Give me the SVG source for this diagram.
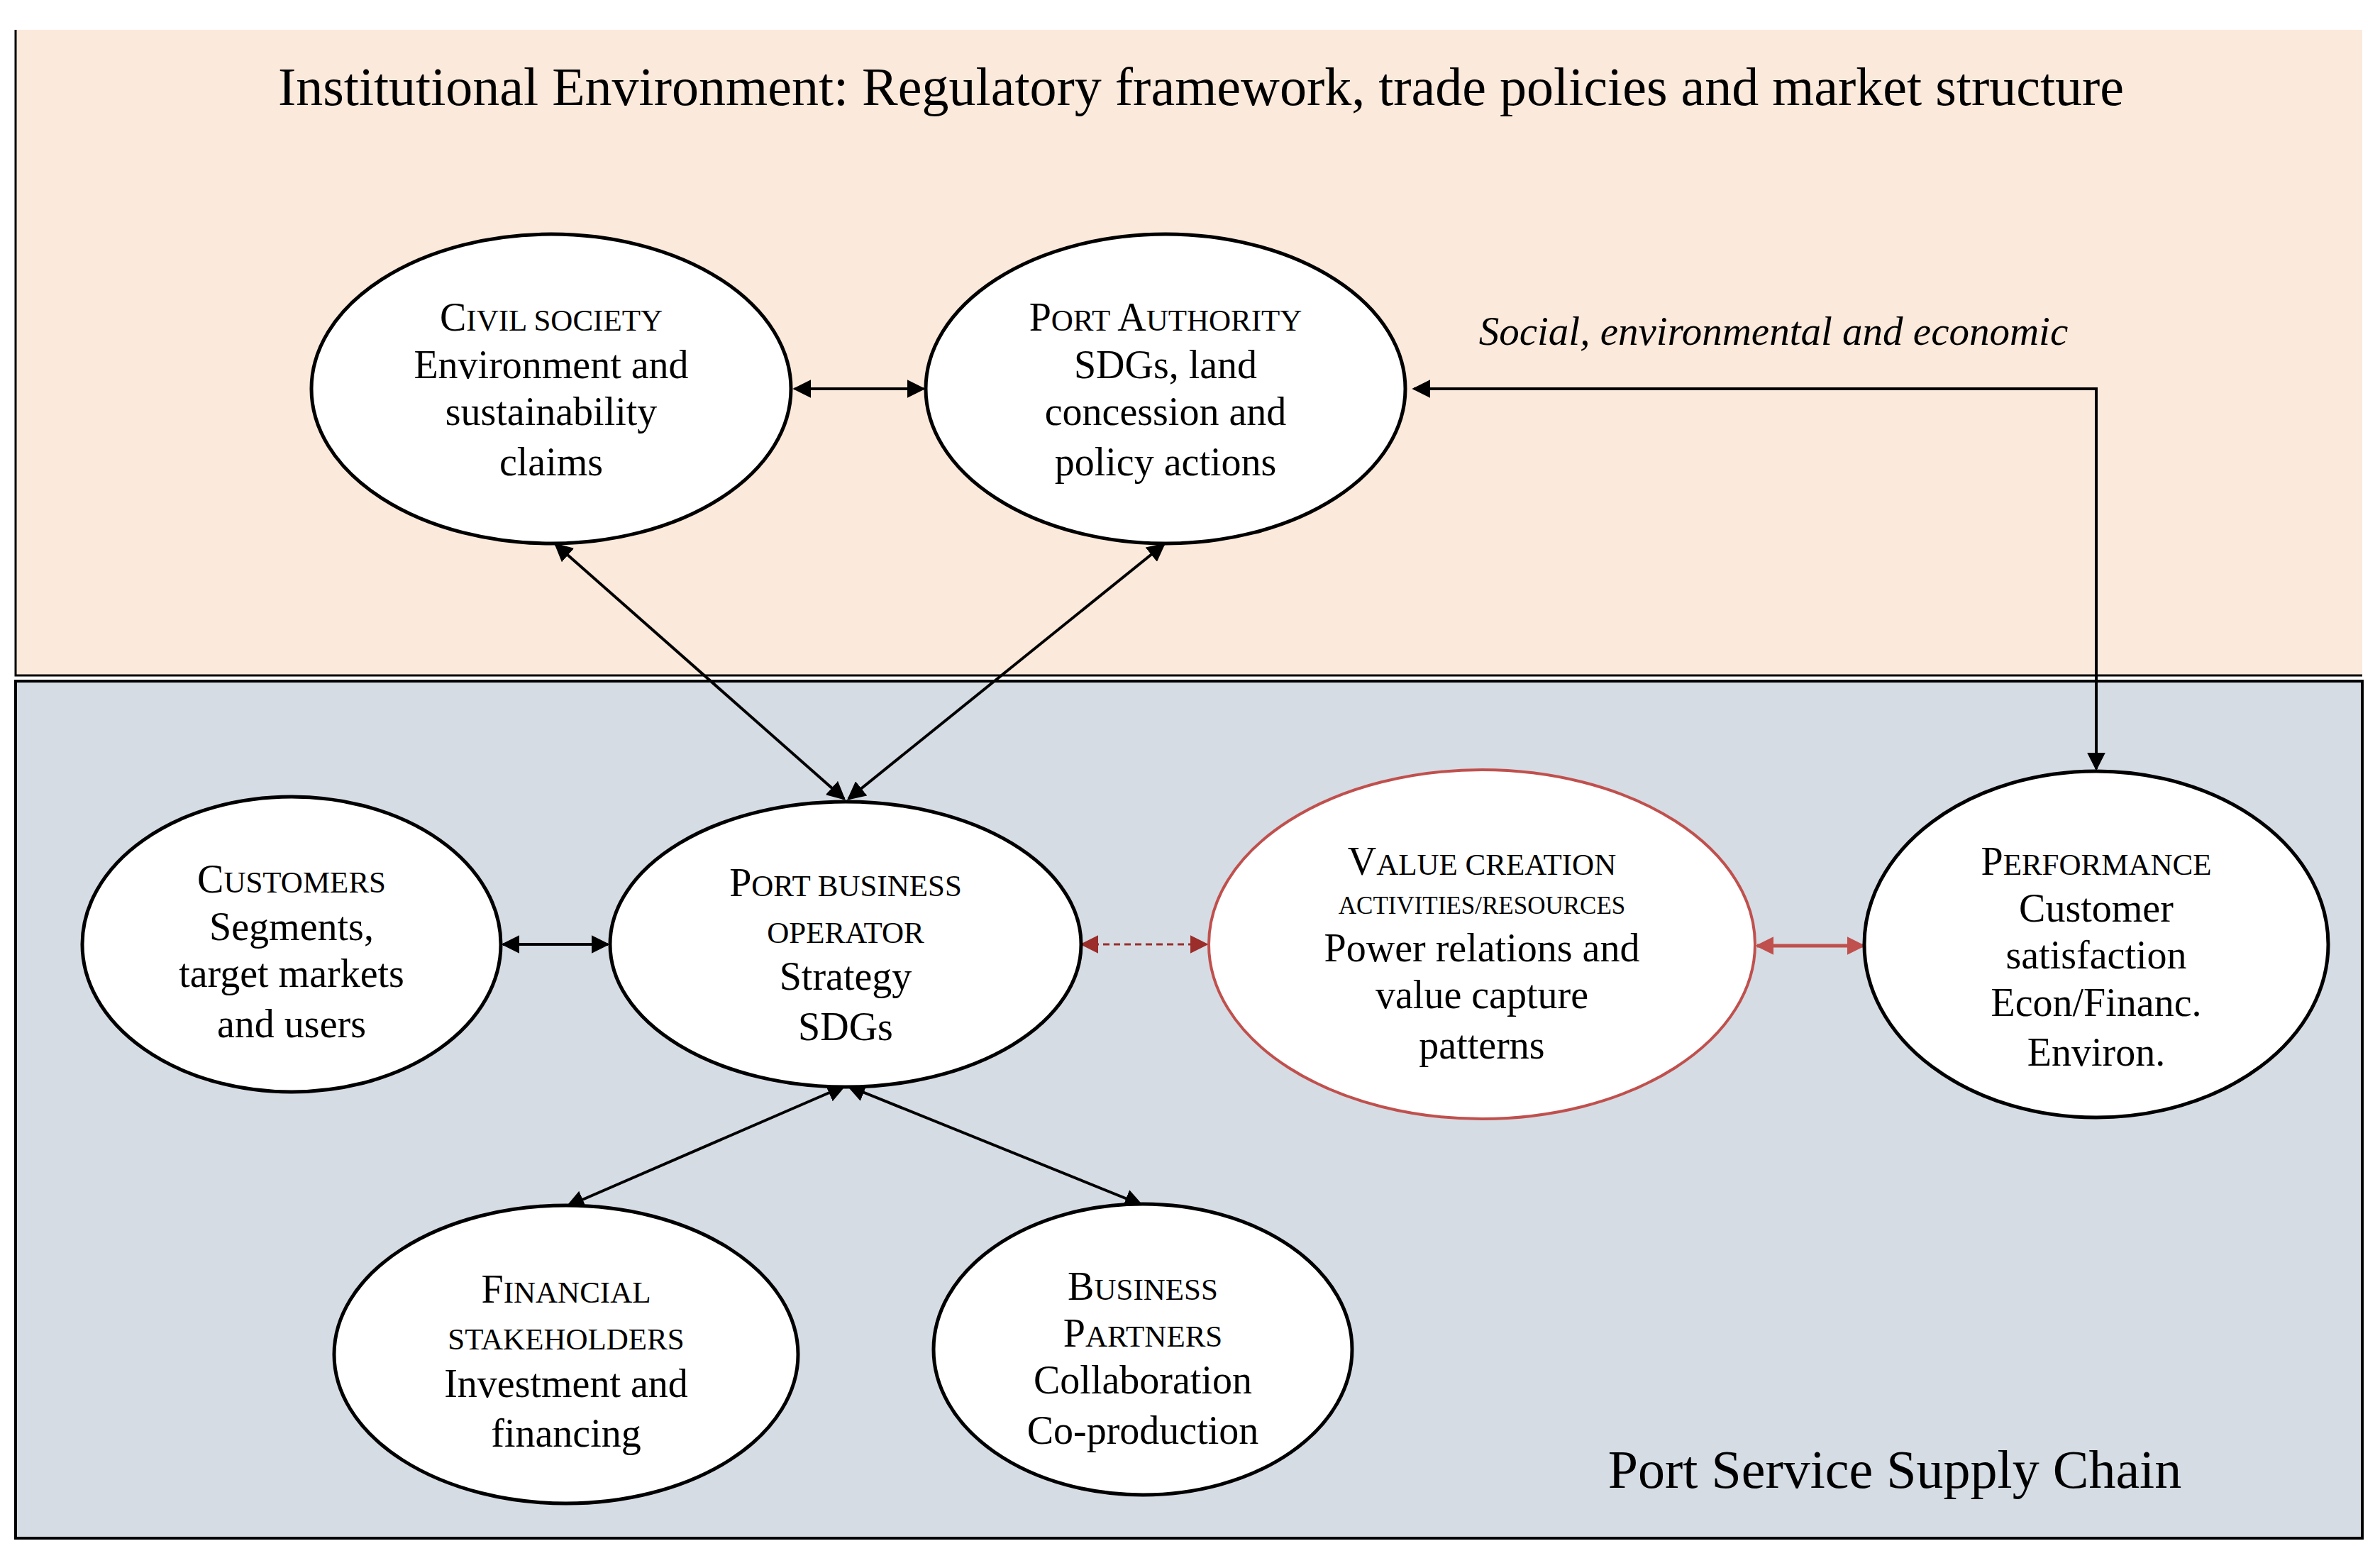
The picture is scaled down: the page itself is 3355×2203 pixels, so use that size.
<svg xmlns="http://www.w3.org/2000/svg" width="3355" height="2203" viewBox="0 0 3355 2203">
<style>
text{font-family:"Liberation Serif","Times New Roman",serif;fill:#000;text-anchor:middle}
.t{font-size:56px}
.s{font-size:43px}
.node{fill:#fff;stroke:#000;stroke-width:5}
.c{fill:none;stroke:#000;stroke-width:4}
</style>
<defs>
<marker id="r" viewBox="0 0 10 10" refX="9" refY="5" orient="auto-start-reverse" markerUnits="userSpaceOnUse" markerWidth="26" markerHeight="26"><path d="M0,0L10,5L0,10z" fill="#C0504D"/></marker>
<marker id="d" viewBox="0 0 10 10" refX="9" refY="5" orient="auto-start-reverse" markerUnits="userSpaceOnUse" markerWidth="26" markerHeight="26"><path d="M0,0L10,5L0,10z" fill="#9B2D2A"/></marker>
<marker id="b" viewBox="0 0 10 10" refX="9" refY="5" orient="auto-start-reverse" markerUnits="userSpaceOnUse" markerWidth="26" markerHeight="26"><path d="M0,0L10,5L0,10z" fill="#000"/></marker>
</defs>
<rect x="0" y="0" width="3355" height="2203" fill="#fff"/>
<rect id="institutional" x="22" y="42" width="3308" height="910" fill="#FBE9DB"/>
<polyline points="22,42 22,952 3330,952" fill="none" stroke="#000" stroke-width="3"/>
<rect id="supplychain" x="22" y="960" width="3308" height="1208" fill="#D5DCE4" stroke="#000" stroke-width="4"/>
<text x="1693" y="148" style="font-size:76px">Institutional Environment: Regulatory framework, trade policies and market structure</text>
<text x="2500" y="486" style="font-size:57px;font-style:italic">Social, environmental and economic</text>
<text x="2671" y="2097" style="font-size:76px">Port Service Supply Chain</text>
<g id="connectors">
<line class="c" x1="1120" y1="548" x2="1302" y2="548" marker-start="url(#b)" marker-end="url(#b)"/>
<polyline class="c" points="1993,548 2955,548 2955,1084" marker-start="url(#b)" marker-end="url(#b)"/>
<line class="c" x1="783" y1="767" x2="1190" y2="1126" marker-start="url(#b)" marker-end="url(#b)"/>
<line class="c" x1="1641" y1="767" x2="1196" y2="1126" marker-start="url(#b)" marker-end="url(#b)"/>
<line class="c" x1="709" y1="1331" x2="857" y2="1331" marker-start="url(#b)" marker-end="url(#b)"/>
<line x1="1525" y1="1331" x2="1701" y2="1331" style="stroke:#9B2D2A;stroke-width:3" stroke-dasharray="9,6" marker-start="url(#d)" marker-end="url(#d)"/>
<line x1="2477" y1="1333" x2="2627" y2="1333" style="stroke:#C0504D;stroke-width:5" marker-start="url(#r)" marker-end="url(#r)"/>
<line class="c" x1="1190" y1="1531" x2="800" y2="1700" marker-start="url(#b)" marker-end="url(#b)"/>
<line class="c" x1="1196" y1="1531" x2="1609" y2="1698" marker-start="url(#b)" marker-end="url(#b)"/>
</g>
<g id="civil"><ellipse class="node" cx="777" cy="548" rx="338" ry="218"/>
<text class="t" x="777" y="466">C<tspan class="s">IVIL SOCIETY</tspan></text>
<text class="t" x="777" y="533">Environment and</text><text class="t" x="777" y="599">sustainability</text><text class="t" x="777" y="670">claims</text></g>
<g id="authority"><ellipse class="node" cx="1643" cy="548" rx="338" ry="218"/>
<text class="t" x="1643" y="466">P<tspan class="s">ORT </tspan>A<tspan class="s">UTHORITY</tspan></text>
<text class="t" x="1643" y="533">SDGs, land</text><text class="t" x="1643" y="599">concession and</text><text class="t" x="1643" y="670">policy actions</text></g>
<g id="customers"><ellipse class="node" cx="411" cy="1331" rx="295" ry="208"/>
<text class="t" x="411" y="1258">C<tspan class="s">USTOMERS</tspan></text>
<text class="t" x="411" y="1325">Segments,</text><text class="t" x="411" y="1391">target markets</text><text class="t" x="411" y="1462">and users</text></g>
<g id="operator"><ellipse class="node" cx="1192" cy="1331" rx="332" ry="201"/>
<text class="t" x="1192" y="1263">P<tspan class="s">ORT BUSINESS</tspan></text>
<text class="s" x="1192" y="1329">OPERATOR</text><text class="t" x="1192" y="1395">Strategy</text><text class="t" x="1192" y="1466">SDGs</text></g>
<g id="value"><ellipse class="node" cx="2089" cy="1331" rx="385" ry="246" style="stroke:#C0504D;stroke-width:4"/>
<text class="t" x="2089" y="1233">V<tspan class="s">ALUE CREATION</tspan></text>
<text x="2089" y="1288" style="font-size:35px">ACTIVITIES/RESOURCES</text>
<text class="t" x="2089" y="1355">Power relations and</text><text class="t" x="2089" y="1421">value capture</text><text class="t" x="2089" y="1492">patterns</text></g>
<g id="performance"><ellipse class="node" cx="2955" cy="1331" rx="327" ry="244"/>
<text class="t" x="2955" y="1233">P<tspan class="s">ERFORMANCE</tspan></text>
<text class="t" x="2955" y="1299">Customer</text><text class="t" x="2955" y="1365">satisfaction</text><text class="t" x="2955" y="1432">Econ/Financ.</text><text class="t" x="2955" y="1502">Environ.</text></g>
<g id="financial"><ellipse class="node" cx="798" cy="1909" rx="327" ry="210"/>
<text class="t" x="798" y="1836">F<tspan class="s">INANCIAL</tspan></text>
<text class="s" x="798" y="1902">STAKEHOLDERS</text><text class="t" x="798" y="1969">Investment and</text><text class="t" x="798" y="2039">financing</text></g>
<g id="partners"><ellipse class="node" cx="1611" cy="1902" rx="295" ry="205"/>
<text class="t" x="1611" y="1832">B<tspan class="s">USINESS</tspan></text>
<text class="t" x="1611" y="1898">P<tspan class="s">ARTNERS</tspan></text><text class="t" x="1611" y="1964">Collaboration</text><text class="t" x="1611" y="2035">Co-production</text></g>
</svg>
